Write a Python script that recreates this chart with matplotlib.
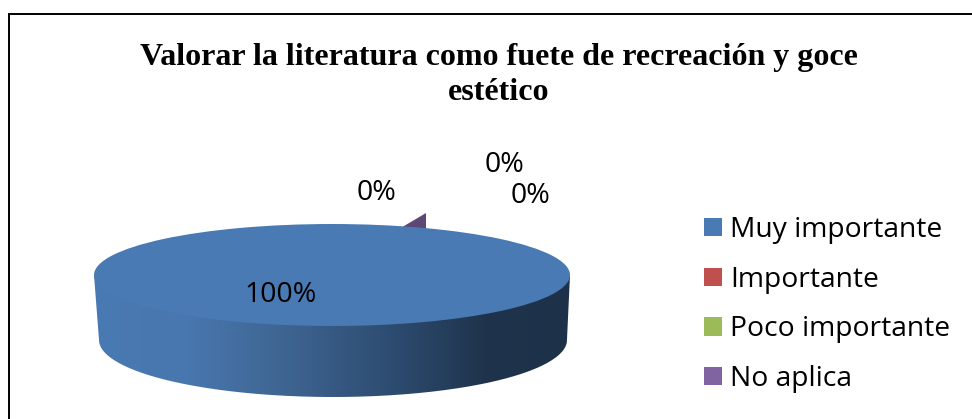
import numpy as np
import matplotlib
matplotlib.use("Agg")
import matplotlib.pyplot as plt
from matplotlib.colors import LinearSegmentedColormap
from matplotlib.patches import PathPatch, Patch, Polygon
from matplotlib.path import Path

# data
categories = ["Muy importante", "Importante", "Poco importante", "No aplica"]
values = [100, 0, 0, 0]
colors = ["#4A7AB3", "#C0504D", "#9BBB59", "#8064A2"]
title = "Valorar la literatura como fuete de recreación y goce\nestético"

W, H = 972, 419
fig = plt.figure(figsize=(W / 100, H / 100), dpi=100)

# whole figure in pixel coords for frame and text
bg = fig.add_axes([0, 0, 1, 1])
bg.set_xlim(0, W)
bg.set_ylim(H, 0)
bg.axis("off")

# chart frame, runs off the picture on the right and at the bottom
bg.plot([8.5, 8.5, W + 5], [H + 5, 14, 14], color="black", lw=1.4, solid_joinstyle="miter")

bg.text(499, 75, title, ha="center", va="center", fontsize=23, fontweight="bold",
        family="Liberation Serif", color="black", linespacing=1.25)

# ellipse of the pie
cx, cy, rx, ry = 332, 275, 238, 51
# lower rim is a bit narrower (perspective)
low_cx, low_cy, low_rx, low_ry = 333, 340, 234, 57

# side of the cylinder with horizontal gradient
t = np.linspace(0, np.pi, 200)
xs = low_cx + low_rx * np.cos(t)
ys = low_cy + low_ry * np.sin(t)
side_pts = [(cx + rx, cy)] + list(zip(xs, ys)) + [(cx - rx, cy), (cx + rx, cy)]
side = PathPatch(Path(side_pts), facecolor="none", edgecolor="none")
bg.add_patch(side)
stops = [(0.0, "#4A7AB3"), (0.2, "#4876AE"), (0.39, "#3F6693"), (0.64, "#2C4A6E"),
         (0.82, "#1F344C"), (1.0, "#1D3149")]
cmap = LinearSegmentedColormap.from_list("side", stops)
im = bg.imshow(np.linspace(0, 1, 256).reshape(1, -1), cmap=cmap, aspect="auto",
               extent=[cx - rx, cx + rx, low_cy + low_ry, cy], zorder=1)
im.set_clip_path(side)
bg.set_xlim(0, W)
bg.set_ylim(H, 0)

# sliver of the zero slice behind the top
bg.add_patch(Polygon([[399, 229], [426, 213], [426, 229]], closed=True, facecolor="#5C4776",
                     edgecolor="none", zorder=2))

# top of the pie
ax = fig.add_axes([(cx - rx) / W, 1 - (cy + ry) / H, 2 * rx / W, 2 * ry / H])
ax.patch.set_alpha(0)
ax.pie(values, colors=colors, startangle=90, counterclock=False, radius=1,
       wedgeprops={"linewidth": 0})
ax.set_aspect("auto")
ax.set_xlim(-1, 1)
ax.set_ylim(-1, 1)

# data labels
label_font = "Open Sans"
label_pos = [(281, 295), (376, 193), (504, 165), (530, 196)]
order = [0, 3, 1, 2]
for (lx, ly), i in zip(label_pos, order):
    fig.text(lx / W, 1 - ly / H, f"{values[i]}%", ha="center", va="center",
             fontsize=20.5, family=label_font, color="black", zorder=10)

# legend
handles = [Patch(facecolor=c, edgecolor="none") for c in colors]
leg = bg.legend(handles, categories, loc="upper left", bbox_to_anchor=(704 / W, 1 - 216 / H),
                frameon=False, prop={"family": label_font, "size": 20.3},
                handlelength=0.63, handleheight=0.63, handletextpad=0.29,
                labelspacing=0.77, borderpad=0, borderaxespad=0)

fig.savefig("out.png", dpi=100)
